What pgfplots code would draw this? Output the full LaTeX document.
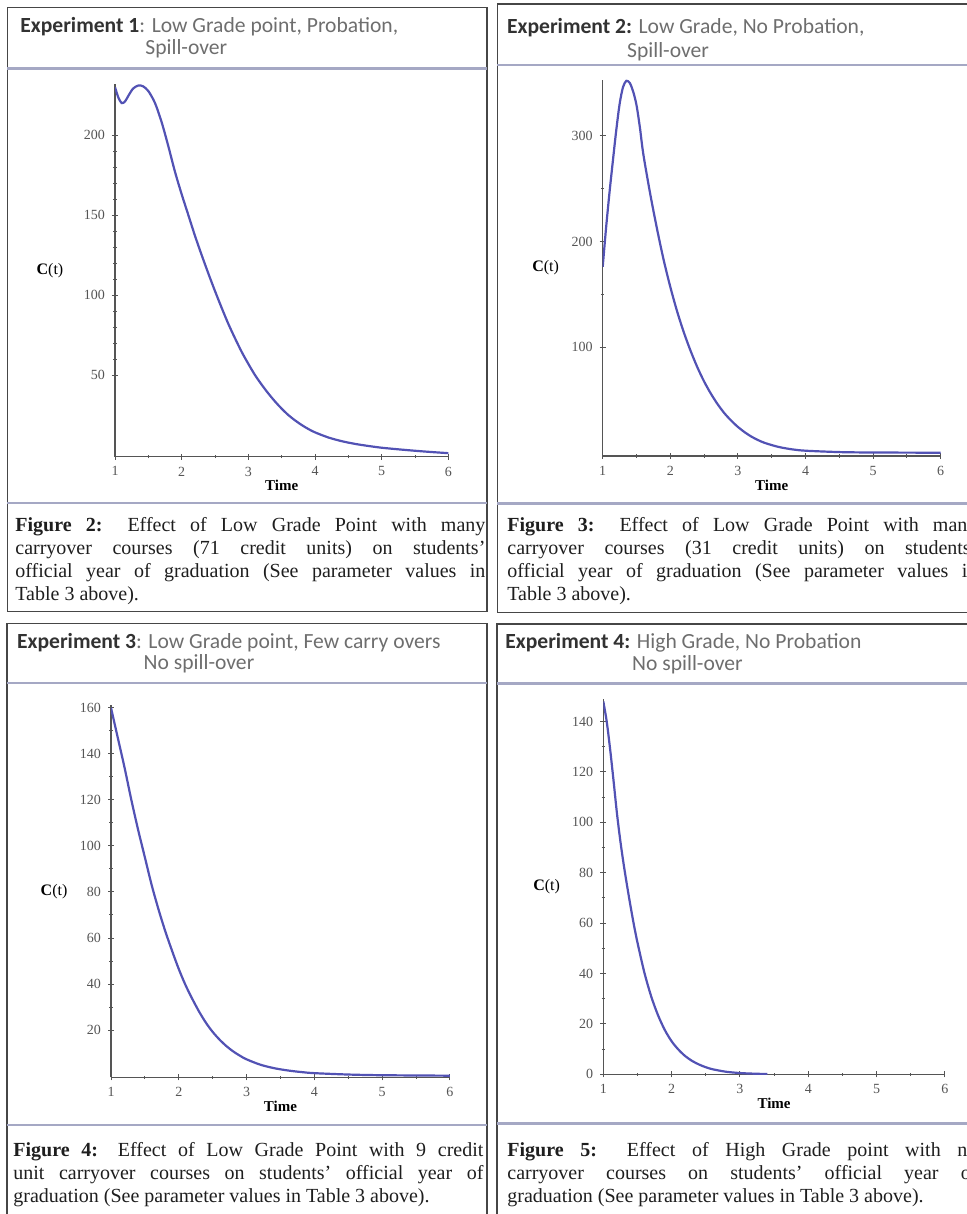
\documentclass[border=0pt]{standalone}
\usepackage{fontspec}
\setmainfont{Liberation Serif}
\newfontfamily\hdrfont{Carlito}
\usepackage{pgfplots}
\pgfplotsset{compat=1.18}
\definecolor{curve}{RGB}{82,82,180}
\definecolor{axgray}{RGB}{85,85,85}
\definecolor{sepline}{RGB}{165,168,196}
\definecolor{boxline}{RGB}{70,70,70}
\definecolor{hdrgray}{RGB}{110,110,110}
\definecolor{hdrdark}{RGB}{50,50,50}
\definecolor{captext}{RGB}{30,30,30}
\pgfplotsset{
  mapleplot/.style={
    scale only axis, anchor=south west,
    axis lines*=left, xmin=1, xmax=6, xtick={1,...,6}, minor x tick num=1,
    tick align=center, major tick length=3pt, minor tick length=1.6pt,
    axis line style={axgray, line width=0.6pt},
    every tick/.style={axgray, line width=0.5pt},
    tick label style={font=\fontsize{7}{8}\selectfont, text=axgray},
    /pgf/number format/assume math mode=true,
    xlabel={\textbf{Time}},
    xlabel style={at={(axis description cs:0.5,0)}, anchor=center, yshift=-14.5pt,
                  font=\fontsize{7.5}{9}\selectfont},
    ylabel={\textbf{C}(t)},
    ylabel style={rotate=-90, anchor=center, font=\fontsize{8}{9}\selectfont},
  },
  maplecurve/.style={curve, line width=1.1pt, smooth, no marks},
}
\tikzset{
  hdrtext/.style={anchor=base west, inner sep=0, font=\hdrfont\fontsize{10.8}{12}\selectfont, text=hdrgray},
  figcap/.style={anchor=north west, inner sep=0, text width=235pt, align=justify,
              font=\fontsize{10}{11.5}\selectfont, text=captext},
  panelbox/.style={boxline, line width=0.6pt},
  panelsep/.style={sepline, line width=1.3pt},
}

% curves
\pgfplotstableread{
t C
1.00 230
1.05 223.5
1.10 220
1.15 221
1.20 224.5
1.27 229
1.35 231
1.42 230.5
1.50 227.5
1.60 220
1.70 208
1.80 193
1.90 177
2.00 163
2.10 150
2.20 137
2.30 125
2.40 113.5
2.50 102.5
2.60 92
2.70 82
2.80 73
2.90 64.5
3.00 57
3.10 50
3.20 44
3.30 38.5
3.40 33.5
3.50 29
3.60 25
3.70 21.7
3.80 18.8
3.90 16.3
4.00 14.2
4.20 11
4.40 8.7
4.60 7
4.80 5.7
5.00 4.6
5.25 3.6
5.50 2.7
5.75 1.9
6.00 1.2
}\expone
\pgfplotstableread{
t C
1.00 176
1.05 213
1.10 246
1.15 276
1.20 305
1.25 330
1.30 346
1.35 352
1.40 350
1.45 342
1.50 329
1.55 308
1.60 283
1.70 246
1.80 213
1.90 183
2.00 157
2.10 134
2.20 114
2.30 96.5
2.40 81
2.50 67.5
2.60 56
2.70 46
2.80 37.5
2.90 30.5
3.00 24.5
3.10 19.5
3.20 15.3
3.30 12
3.40 9.3
3.60 5.6
3.80 3.3
4.00 2.0
4.50 0.7
5.00 0.3
6.00 0.1
}\exptwo
\pgfplotstableread{
t C
1.00 160
1.10 147
1.20 134
1.30 120
1.40 107
1.50 95
1.60 83
1.70 72.5
1.80 63
1.90 54.5
2.00 46.5
2.10 39.5
2.20 33.5
2.30 28
2.40 23.2
2.50 19.2
2.60 15.9
2.70 13.1
2.80 10.8
2.90 8.9
3.00 7.3
3.20 5
3.40 3.5
3.60 2.5
3.80 1.8
4.00 1.3
4.50 0.7
5.00 0.4
6.00 0.2
}\expthree
\pgfplotstableread{
t C
1.00 148
1.05 140
1.10 129
1.15 116.5
1.20 103.5
1.25 92.5
1.30 83
1.35 74.5
1.40 66.5
1.45 59
1.50 52.3
1.60 40.5
1.70 31
1.80 23.5
1.90 17.6
2.00 13.1
2.10 9.8
2.20 7.2
2.30 5.3
2.40 3.9
2.50 2.8
2.60 2
2.80 1
3.00 0.5
3.20 0.25
3.40 0.1
}\expfour

\begin{document}
\begin{tikzpicture}
\path[use as bounding box] (0,0) rectangle (483.5pt,607pt);
\clip (0,0) rectangle (483.5pt,607pt);

% panel frames
\draw[panelbox] (3.65pt,301.15pt) rectangle (243.5pt,603.35pt);
\draw[panelbox] (248.65pt,300.65pt) rectangle (495pt,605pt);
\draw[panelbox] (3.5pt,-5pt) rectangle (243.5pt,295.35pt);
\draw[panelbox] (248.5pt,-5pt) rectangle (495pt,295pt);
\draw[panelsep] (3.65pt,572.85pt) -- (243.5pt,572.85pt);
\draw[panelsep] (3.65pt,355.5pt) -- (243.5pt,355.5pt);
\draw[panelsep] (248.65pt,574.5pt) -- (495pt,574.5pt);
\draw[panelsep] (248.65pt,355.35pt) -- (495pt,355.35pt);
\draw[panelsep] (3.5pt,265.5pt) -- (243.5pt,265.5pt);
\draw[panelsep] (3.5pt,44.5pt) -- (243.5pt,44.5pt);
\draw[panelsep] (248.5pt,265.35pt) -- (495pt,265.35pt);
\draw[panelsep] (248.5pt,45.35pt) -- (495pt,45.35pt);

% headers
\node[hdrtext] at (10pt,590.5pt) {\textcolor{hdrdark}{\bfseries Experiment 1}: Low Grade point, Probation,};
\node[hdrtext] at (72.5pt,579.5pt) {Spill-over};
\node[hdrtext] at (253.35pt,590pt) {\textcolor{hdrdark}{\bfseries Experiment 2:} Low Grade, No Probation,};
\node[hdrtext] at (313.35pt,578pt) {Spill-over};
\node[hdrtext] at (8.35pt,282.5pt) {\textcolor{hdrdark}{\bfseries Experiment 3}: Low Grade point, Few carry overs};
\node[hdrtext] at (71.65pt,272pt) {No spill-over};
\node[hdrtext] at (252.5pt,282.5pt) {\textcolor{hdrdark}{\bfseries Experiment 4:} High Grade, No Probation};
\node[hdrtext] at (315.85pt,271.5pt) {No spill-over};

% captions
\node[figcap] at (7.5pt,348.5pt) {\textbf{Figure 2:} Effect of Low Grade Point with many\linebreak
  carryover courses (71 credit units) on students'\linebreak
  official year of graduation (See parameter values in\linebreak
  Table 3 above).};
\node[figcap] at (253.5pt,348.5pt) {\textbf{Figure 3:} Effect of Low Grade Point with many\linebreak
  carryover courses (31 credit units) on students'\linebreak
  official year of graduation (See parameter values in\linebreak
  Table 3 above).};
\node[figcap] at (6.5pt,36pt) {\textbf{Figure 4:} Effect of Low Grade Point with 9 credit\linebreak
  unit carryover courses on students' official year of\linebreak
  graduation (See parameter values in Table 3 above).};
\node[figcap] at (253.5pt,36pt) {\textbf{Figure 5:} Effect of High Grade point with no\linebreak
  carryover courses on students' official year of\linebreak
  graduation (See parameter values in Table 3 above).};

% plots
\begin{axis}[mapleplot, at={(57.5pt,378.65pt)}, width=166.7pt, height=186.4pt,
  ymin=-1, ymax=232, ytick={50,100,150,200}, minor y tick num=4,
  ylabel style={at={(axis description cs:-0.195,0.5)}}]
  \addplot[maplecurve] table[x=t, y=C] {\expone};
\end{axis}
\begin{axis}[mapleplot, at={(301.35pt,379pt)}, width=169pt, height=188.1pt,
  ymin=-3, ymax=353, ytick={100,200,300}, minor y tick num=1,
  ylabel style={at={(axis description cs:-0.169,0.5)}}]
  \addplot[maplecurve] table[x=t, y=C] {\exptwo};
\end{axis}
\begin{axis}[mapleplot, at={(55.5pt,68.35pt)}, width=169.5pt, height=185.9pt,
  ymin=-0.5, ymax=161, ytick={20,40,...,160}, minor y tick num=1,
  ylabel style={at={(axis description cs:-0.168,0.5)}}]
  \addplot[maplecurve] table[x=t, y=C] {\expthree};
\end{axis}
\begin{axis}[mapleplot, at={(301.65pt,69.85pt)}, width=170.8pt, height=187.7pt,
  ymin=0, ymax=149, ytick={0,20,...,140}, minor y tick num=1,
  ylabel style={at={(axis description cs:-0.166,0.5)}}]
  \addplot[maplecurve] table[x=t, y=C] {\expfour};
\end{axis}
\end{tikzpicture}
\end{document}
